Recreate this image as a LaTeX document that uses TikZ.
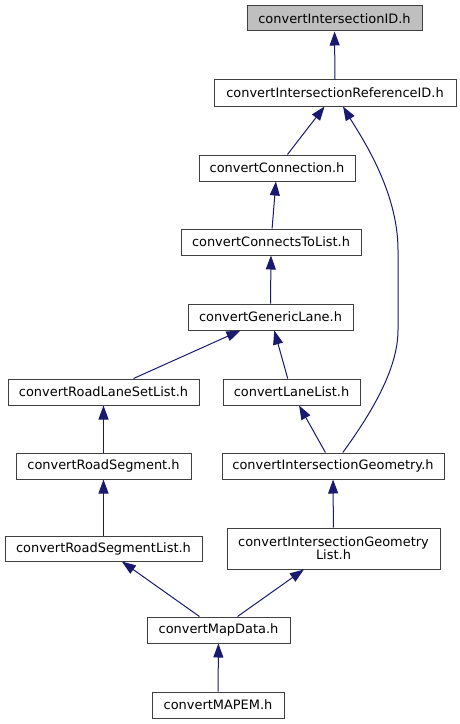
\documentclass[tikz,border=0pt]{standalone}
\usepackage{fontspec}
\setmainfont{DejaVu Sans}
\usetikzlibrary{arrows.meta}
\definecolor{edgeblue}{HTML}{191970}
\definecolor{boxgrey}{HTML}{404040}
\definecolor{rootfill}{HTML}{BFBFBF}
\begin{document}
\begin{tikzpicture}[x=0.75pt, y=-0.75pt,
    hdr/.style={draw=boxgrey, line width=0.75pt, fill=white, align=center, inner sep=0pt, minimum height=19.5pt, font=\fontsize{9.7}{9.5}\selectfont},
    dep/.style={draw=edgeblue, line width=0.75pt, -{Triangle[length=10.5pt,width=7.5pt]}}]
    \useasboundingbox (0,0) rectangle (460,724);
    \node[hdr, fill=rootfill, minimum width=131.25pt, minimum height=18.75pt] (id) at (334.5,18.5) {convertIntersectionID.h};
    \node[hdr, minimum width=181.5pt] (refid) at (335,93) {convertIntersectionReferenceID.h};
    \node[hdr, minimum width=117pt] (conn) at (277,168) {convertConnection.h};
    \node[hdr, minimum width=135pt] (ctl) at (271,242) {convertConnectsToList.h};
    \node[hdr, minimum width=123.75pt] (gl) at (270.5,317) {convertGenericLane.h};
    \node[hdr, minimum width=143.25pt] (rlsl) at (103.5,392) {convertRoadLaneSetList.h};
    \node[hdr, minimum width=102.75pt] (ll) at (291.5,392) {convertLaneList.h};
    \node[hdr, minimum width=131.25pt] (rs) at (103.5,466) {convertRoadSegment.h};
    \node[hdr, minimum width=166.5pt] (ig) at (333,466) {convertIntersectionGeometry.h};
    \node[hdr, minimum width=147.75pt, minimum height=18.75pt] (rsl) at (103.5,548.5) {convertRoadSegmentList.h};
    \node[hdr, minimum width=159.75pt, minimum height=30.75pt] (igl) at (333.5,548.5) {convertIntersectionGeometry\\List.h};
    \node[hdr, minimum width=107.25pt] (md) at (218.5,630) {convertMapData.h};
    \node[hdr, minimum width=99pt] (mapem) at (218,705) {convertMAPEM.h};
    \draw[dep] (refid) -- (id);
    \draw[dep] (conn) -- (refid);
    \draw[dep] (ig) .. controls (370,415) and (398,370) .. (398,330) -- (398,250) .. controls (398,190) and (360,135) .. (refid);
    \draw[dep] (ctl) -- (conn);
    \draw[dep] (gl) -- (ctl);
    \draw[dep] (rlsl) -- (gl);
    \draw[dep] (ll) -- (gl);
    \draw[dep] (rs) -- (rlsl);
    \draw[dep] (ig) -- (ll);
    \draw[dep] (rsl) -- (rs);
    \draw[dep] (igl) -- (ig);
    \draw[dep] (md) -- (rsl);
    \draw[dep] (md) -- (igl);
    \draw[dep] (mapem) -- (md);
  \end{tikzpicture}
\end{document}
